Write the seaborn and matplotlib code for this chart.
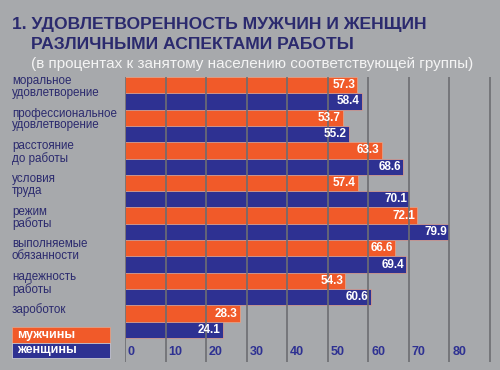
import pandas as pd
import numpy as np
import matplotlib.pyplot as plt
import seaborn as sns
from matplotlib.patches import Rectangle


# DATA

categories = [
    "моральное\nудовлетворение",
    "профессиональное\nудовлетворение",
    "расстояние\nдо работы",
    "условия\nтруда",
    "режим\nработы",
    "выполняемые\nобязанности",
    "надежность\nработы",
    "зароботок",
]
men = [57.3, 53.7, 63.3, 57.4, 72.1, 66.6, 54.3, 28.3]
women = [58.4, 55.2, 68.6, 70.1, 79.9, 69.4, 60.6, 24.1]
groups = ["мужчины", "женщины"]
ticks = [0, 10, 20, 30, 40, 50, 60, 70, 80]

orange = "#f15a29"
blue = "#2e3192"
navy = "#2b2a6e"
bg = "#a7a9ac"

df = pd.DataFrame({
    "cat": categories * 2,
    "val": men + women,
    "sex": [groups[0]] * len(men) + [groups[1]] * len(women),
})


# FIGURE

sns.set_style("white")
plt.rcParams["font.family"] = ["Liberation Sans", "DejaVu Sans"]

fig = plt.figure(figsize=(5, 3.7), dpi=100)
fig.patch.set_facecolor(bg)
ax = fig.add_axes([0.25, 0.0216, 0.738, 0.7703])
ax.set_facecolor(bg)

sns.barplot(
    data=df, y="cat", x="val", hue="sex",
    palette=[orange, blue], saturation=1, orient="h",
    width=1.0, dodge=True, legend=False,
    edgecolor="#e6a58c", linewidth=0.5,
    ax=ax,
)

ax.set_xlim(0, 91)
ax.set_ylim(8.236, -0.5)
ax.set_xticks(ticks + [90])
ax.set_xticklabels([])
ax.set_yticks([])
ax.set_xlabel("")
ax.set_ylabel("")
ax.tick_params(length=0)
for s in ax.spines.values():
    s.set_visible(False)

# grid lines drawn over the bars
ax.set_axisbelow(False)
ax.grid(axis="x", color="#6d6e72", linewidth=1.2)

# value labels inside bar ends
for p in ax.patches:
    w = p.get_width()
    ax.text(w - 0.5, p.get_y() + p.get_height() / 2, f"{w:.1f}",
            color="white", fontsize=8.5, fontweight="bold",
            ha="right", va="center", zorder=5)

# x tick labels inside the plot
for t in ticks:
    ax.text(t + 0.7, 0.035, str(t), transform=ax.get_xaxis_transform(),
            color=blue, fontsize=9, fontweight="bold", ha="left", va="center")

# category labels, figure x / data y
for i, c in enumerate(categories):
    y_disp = ax.transData.transform((0, i - 0.56))[1]
    y_fig = fig.transFigure.inverted().transform((0, y_disp))[1]
    fig.text(0.024, y_fig, c, color=navy, fontsize=8.4, ha="left", va="top",
             linespacing=0.98)

# title
fig.text(0.024, 0.935, "1. УДОВЛЕТВОРЕННОСТЬ МУЖЧИН И ЖЕНЩИН",
         color=navy, fontsize=12.6, fontweight="bold", ha="left", va="center")
fig.text(0.062, 0.881, "РАЗЛИЧНЫМИ АСПЕКТАМИ РАБОТЫ",
         color=navy, fontsize=12.6, fontweight="bold", ha="left", va="center")
fig.text(0.062, 0.827, "(в процентах к занятому населению соответствующей группы)",
         color="#f4f4f4", fontsize=11, ha="left", va="center")

# legend boxes
fig.patches.append(Rectangle((0.024, 1 - 343 / 370), 0.196, 16 / 370,
                             transform=fig.transFigure, facecolor=orange,
                             edgecolor="#e6a58c", linewidth=0.5))
fig.patches.append(Rectangle((0.024, 1 - 358 / 370), 0.196, 15 / 370,
                             transform=fig.transFigure, facecolor=blue,
                             edgecolor="#d9d9d9", linewidth=0.5))
fig.text(0.034, 1 - 335 / 370, groups[0], color="white", fontsize=9,
         fontweight="bold", ha="left", va="center")
fig.text(0.034, 1 - 350.5 / 370, groups[1], color="white", fontsize=9,
         fontweight="bold", ha="left", va="center")

fig.savefig("out.png", dpi=100, facecolor=bg)
